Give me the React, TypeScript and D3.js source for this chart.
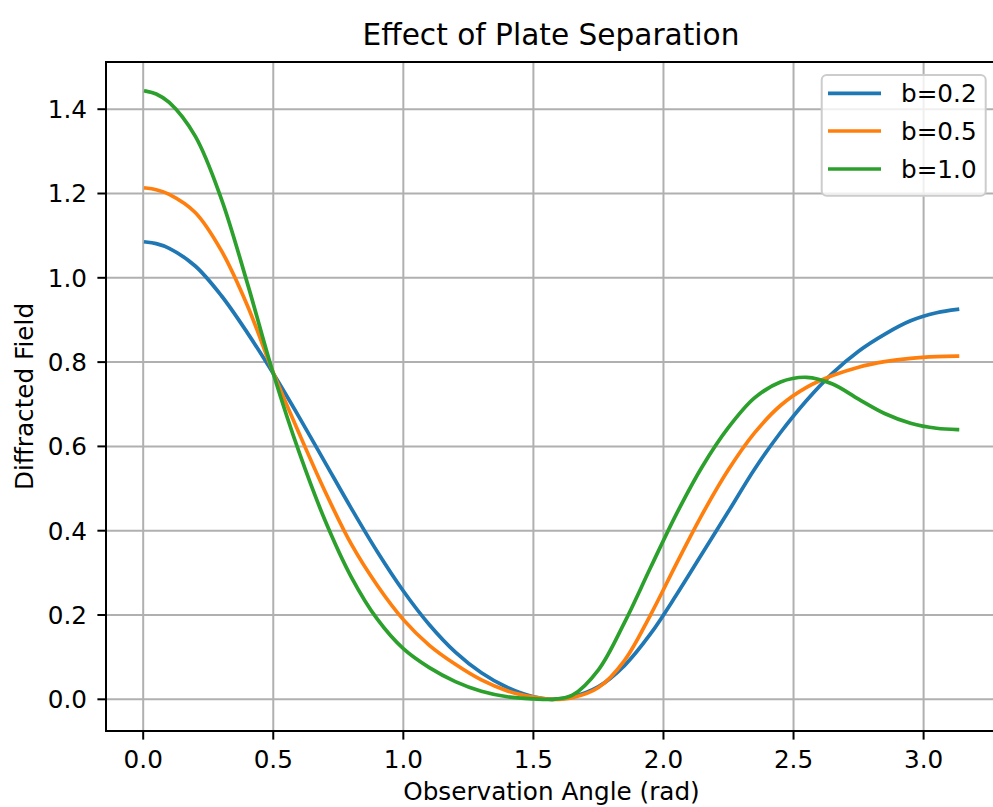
import React from "react";
import { scaleLinear, line, curveCatmullRom } from "d3";

// observation angles (rad) shared by every curve
const angles = [
  0.01, 0.05, 0.1, 0.2, 0.3, 0.4, 0.5, 0.6, 0.7, 0.8, 0.9, 1.0, 1.1, 1.2, 1.3,
  1.4, 1.5, 1.57, 1.65, 1.75, 1.85, 1.95, 2.05, 2.15, 2.25, 2.35, 2.45, 2.55,
  2.65, 2.75, 2.85, 2.95, 3.05, 3.13,
];

// diffracted field, one list per plate separation
const fieldB02 = [
  1.085, 1.081, 1.07, 1.028, 0.958, 0.87, 0.773, 0.669, 0.561, 0.453, 0.35,
  0.257, 0.177, 0.112, 0.063, 0.028, 0.006, 0.0, 0.006, 0.03, 0.08, 0.155,
  0.248, 0.347, 0.446, 0.546, 0.633, 0.709, 0.774, 0.826, 0.866, 0.898, 0.917,
  0.925,
];
const fieldB05 = [
  1.213, 1.209, 1.198, 1.155, 1.065, 0.935, 0.775, 0.63, 0.492, 0.368, 0.27,
  0.189, 0.128, 0.083, 0.046, 0.02, 0.005, 0.0, 0.004, 0.028, 0.092, 0.2,
  0.322, 0.44, 0.545, 0.632, 0.697, 0.74, 0.768, 0.788, 0.801, 0.809, 0.813,
  0.814,
];
const fieldB10 = [
  1.443, 1.436, 1.416, 1.336, 1.188, 0.988, 0.773, 0.585, 0.423, 0.29, 0.19,
  0.12, 0.075, 0.042, 0.019, 0.006, 0.001, 0.0, 0.01, 0.07, 0.182, 0.312,
  0.44, 0.553, 0.645, 0.715, 0.753, 0.764, 0.748, 0.712, 0.678, 0.655, 0.643,
  0.64,
];

const seriesLabels = ["b=0.2", "b=0.5", "b=1.0"];
const seriesValues = [fieldB02, fieldB05, fieldB10];
const colors = ["#1f77b4", "#ff7f0e", "#2ca02c"];

const xTicks = [0, 0.5, 1.0, 1.5, 2.0, 2.5, 3.0];
const yTicks = [0, 0.2, 0.4, 0.6, 0.8, 1.0, 1.2, 1.4];

const width = 993;
const height = 807;
const margin = { top: 62, left: 106, right: 998, bottom: 731 };
const font = "DejaVu Sans, Verdana, sans-serif";
const fs = 24.7;
const tickLen = 8.6;

export default function App() {
  const xScale = scaleLinear().domain([-0.143, 3.286]).range([margin.left, margin.right]);
  const yScale = scaleLinear().domain([-0.0752, 1.512]).range([margin.bottom, margin.top]);

  const path = line<number>()
    .x((_, i) => xScale(angles[i]))
    .y((d) => yScale(d))
    .curve(curveCatmullRom.alpha(0.5));

  const legend = { x: 821.7, y: 75, w: 164, h: 120.7 };
  const rowY = [93.3, 131, 169];

  return (
    <svg
      width={width}
      height={height}
      style={{ position: "absolute", left: 0, top: 0, background: "#fff" }}
      fontFamily={font}
    >
      <rect width={width} height={height} fill="#fff" />
      <defs>
        <clipPath id="plot">
          <rect
            x={margin.left}
            y={margin.top}
            width={margin.right - margin.left}
            height={margin.bottom - margin.top}
          />
        </clipPath>
      </defs>

      {/* grid */}
      {xTicks.map((t) => (
        <line
          key={"gx" + t}
          x1={xScale(t)}
          x2={xScale(t)}
          y1={margin.top}
          y2={margin.bottom}
          stroke="#b0b0b0"
          strokeWidth={2}
        />
      ))}
      {yTicks.map((t) => (
        <line
          key={"gy" + t}
          x1={margin.left}
          x2={margin.right}
          y1={yScale(t)}
          y2={yScale(t)}
          stroke="#b0b0b0"
          strokeWidth={2}
        />
      ))}

      {/* curves */}
      <g clipPath="url(#plot)">
        {seriesValues.map((vals, i) => (
          <path
            key={seriesLabels[i]}
            d={path(vals) || ""}
            fill="none"
            stroke={colors[i]}
            strokeWidth={3.7}
            strokeLinecap="square"
            strokeLinejoin="round"
          />
        ))}
      </g>

      {/* spines */}
      <rect
        x={margin.left}
        y={margin.top}
        width={margin.right - margin.left}
        height={margin.bottom - margin.top}
        fill="none"
        stroke="#000"
        strokeWidth={2}
      />

      {/* x ticks */}
      {xTicks.map((t) => (
        <g key={"xt" + t} transform={`translate(${xScale(t)},${margin.bottom})`}>
          <line y2={tickLen} stroke="#000" strokeWidth={2} />
          <text y={37} textAnchor="middle" fontSize={fs} fill="#000">
            {t.toFixed(1)}
          </text>
        </g>
      ))}
      {/* y ticks */}
      {yTicks.map((t) => (
        <g key={"yt" + t} transform={`translate(${margin.left},${yScale(t)})`}>
          <line x2={-tickLen} stroke="#000" strokeWidth={2} />
          <text x={-19} dy="0.36em" textAnchor="end" fontSize={fs} fill="#000">
            {t.toFixed(1)}
          </text>
        </g>
      ))}

      {/* labels */}
      <text x={551} y={45} textAnchor="middle" fontSize={29.6} fill="#000">
        Effect of Plate Separation
      </text>
      <text x={551.5} y={800} textAnchor="middle" fontSize={fs} fill="#000">
        Observation Angle (rad)
      </text>
      <text
        transform={`translate(33,${(margin.top + margin.bottom) / 2}) rotate(-90)`}
        textAnchor="middle"
        fontSize={fs}
        fill="#000"
      >
        Diffracted Field
      </text>

      {/* legend */}
      <rect
        x={legend.x}
        y={legend.y}
        width={legend.w}
        height={legend.h}
        rx={5}
        fill="#fff"
        fillOpacity={0.8}
        stroke="#cccccc"
        strokeWidth={2}
      />
      {seriesLabels.map((lab, i) => (
        <g key={"lg" + lab}>
          <line
            x1={828}
            x2={881}
            y1={rowY[i]}
            y2={rowY[i]}
            stroke={colors[i]}
            strokeWidth={3.7}
          />
          <text x={901} y={rowY[i]} dy="0.36em" fontSize={fs} fill="#000">
            {lab}
          </text>
        </g>
      ))}
    </svg>
  );
}
